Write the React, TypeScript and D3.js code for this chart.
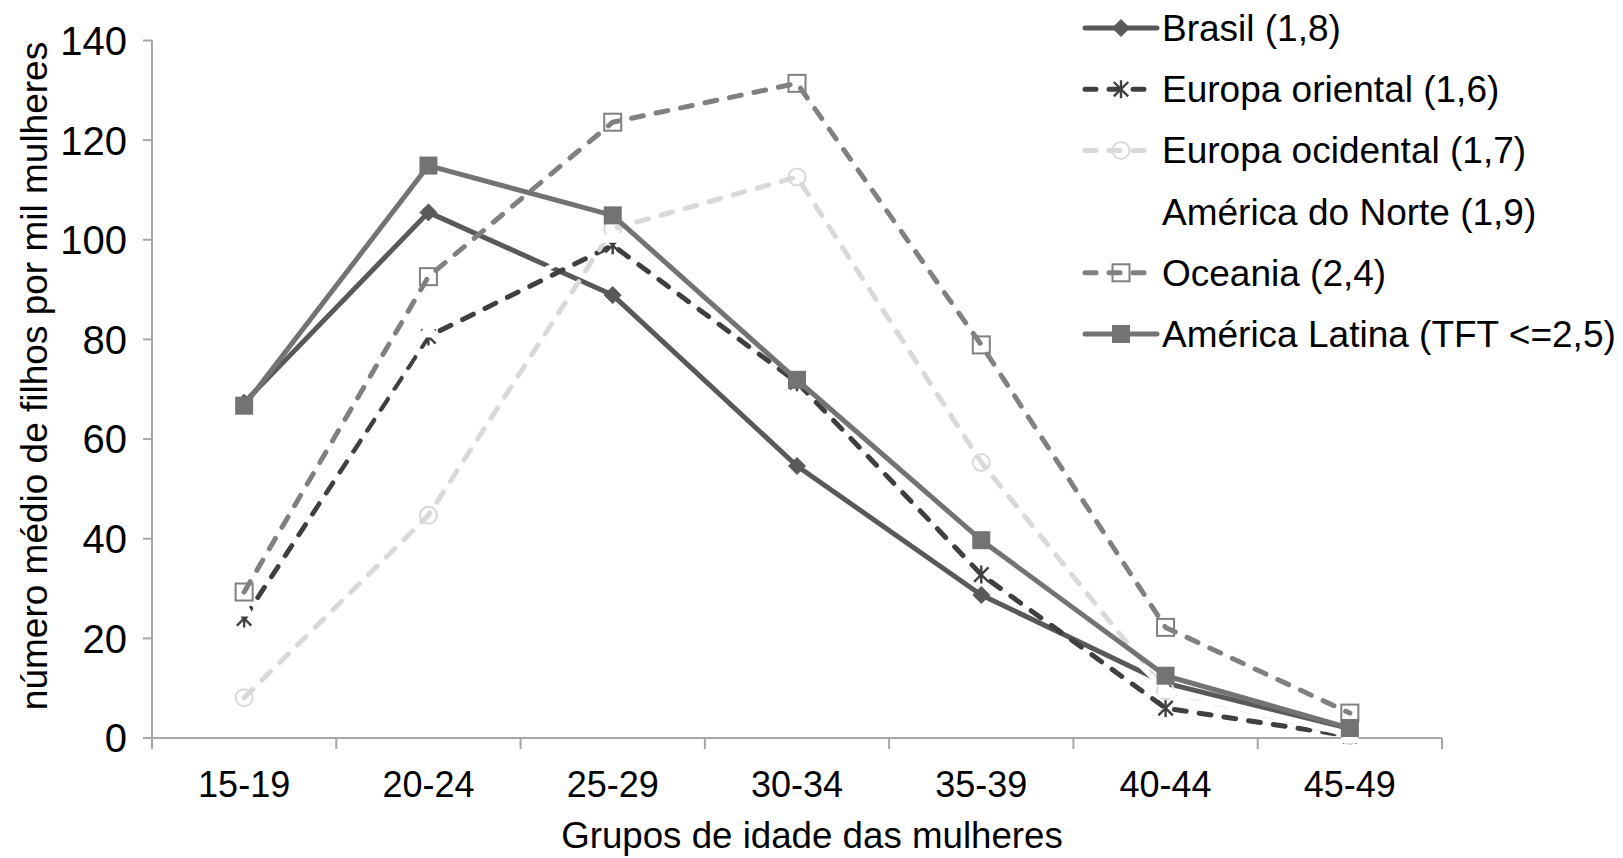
import React from "react";
import * as d3 from "d3";

// Age groups (x axis)
const categories = ["15-19", "20-24", "25-29", "30-34", "35-39", "40-44", "45-49"];

// Age-specific fertility rates, births per thousand women
const brasil = [67.3, 105.5, 88.9, 54.6, 28.7, 11.0, 1.9];
const europaOriental = [24.0, 80.6, 98.9, 71.4, 32.8, 6.0, 0.4];
const europaOcidental = [8.1, 44.7, 102.2, 112.6, 55.3, 9.5, 0.5];
const americaNorte = [26.0, 82.0, 101.0, 96.0, 46.0, 9.6, 0.6];
const oceania = [29.3, 92.6, 123.6, 131.4, 78.9, 22.2, 5.0];
const americaLatina = [66.7, 114.9, 104.9, 71.9, 39.7, 12.5, 2.0];

const yTicks = [0, 20, 40, 60, 80, 100, 120, 140];

type Marker = "diamond" | "star" | "circle" | "triangle" | "openSquare" | "square";

interface Series {
  name: string;
  values: number[];
  color: string;
  dashed: boolean;
  marker: Marker;
}

const series: Series[] = [
  { name: "Brasil (1,8)", values: brasil, color: "#595959", dashed: false, marker: "diamond" },
  { name: "Europa oriental (1,6)", values: europaOriental, color: "#3f3f3f", dashed: true, marker: "star" },
  { name: "Europa ocidental (1,7)", values: europaOcidental, color: "#d9d9d9", dashed: true, marker: "circle" },
  { name: "América do Norte (1,9)", values: americaNorte, color: "#ffffff", dashed: false, marker: "triangle" },
  { name: "Oceania (2,4)", values: oceania, color: "#808080", dashed: true, marker: "openSquare" },
  { name: "América Latina (TFT <=2,5)", values: americaLatina, color: "#737373", dashed: false, marker: "square" },
];

const W = 1623;
const H = 858;
const FONT = "'Liberation Sans', Arial, sans-serif";
const AXIS = "#a6a6a6";

const x = d3.scaleBand<string>().domain(categories).range([152, 1442]);
const y = d3.scaleLinear().domain([0, 140]).range([738, 40.5]);
const cx = (c: string) => (x(c) as number) + x.bandwidth() / 2;

function MarkerShape({ kind, px, py, color }: { kind: Marker; px: number; py: number; color: string }) {
  switch (kind) {
    case "diamond": {
      const r = 8.5;
      return <path d={`M${px},${py - r}L${px + r},${py}L${px},${py + r}L${px - r},${py}Z`} fill={color} stroke={color} strokeWidth={1} />;
    }
    case "star": {
      const r = 9;
      const d = r * 0.8;
      return (
        <path
          d={`M${px},${py - r}L${px},${py + r}M${px - d},${py - d}L${px + d},${py + d}M${px - d},${py + d}L${px + d},${py - d}`}
          stroke={color}
          strokeWidth={2.4}
          fill="none"
        />
      );
    }
    case "circle":
      return <circle cx={px} cy={py} r={8.5} fill="none" stroke={color} strokeWidth={2} />;
    case "triangle": {
      const r = 9;
      return <path d={`M${px},${py - r}L${px + r},${py + r * 0.8}L${px - r},${py + r * 0.8}Z`} fill={color} stroke={color} strokeWidth={1.5} />;
    }
    case "openSquare":
      return <rect x={px - 8.5} y={py - 8.5} width={17} height={17} fill="none" stroke={color} strokeWidth={2} />;
    case "square":
      return <rect x={px - 9} y={py - 9} width={18} height={18} fill={color} />;
  }
}

export default function App() {
  const line = d3
    .line<number>()
    .x((_, i) => cx(categories[i]))
    .y((v) => y(v));

  const legendX0 = 1085;
  const legendX1 = 1157;
  const legendY = (i: number) => 28 + i * 61.2;

  return (
    <svg
      width={W}
      height={H}
      viewBox={`0 0 ${W} ${H}`}
      style={{ position: "absolute", left: 0, top: 0, background: "#fff" }}
      fontFamily={FONT}
    >
      <rect width={W} height={H} fill="#fff" />

      {/* y axis */}
      <line x1={152} x2={152} y1={y(140)} y2={y(0)} stroke={AXIS} strokeWidth={2} />
      {yTicks.map((t) => (
        <g key={t}>
          <line x1={143} x2={152} y1={y(t)} y2={y(t)} stroke={AXIS} strokeWidth={2} />
          <text x={127} y={y(t)} dy="0.36em" textAnchor="end" fontSize={40} fill="#000">
            {t}
          </text>
        </g>
      ))}

      {/* x axis */}
      <line x1={152} x2={1442} y1={y(0)} y2={y(0)} stroke={AXIS} strokeWidth={2} />
      {[...categories.map((c) => x(c) as number), 1442].map((bx, i) => (
        <line key={i} x1={bx} x2={bx} y1={y(0)} y2={y(0) + 11} stroke={AXIS} strokeWidth={2} />
      ))}
      {categories.map((c) => (
        <text key={c} x={cx(c)} y={797} textAnchor="middle" fontSize={36} fill="#000">
          {c}
        </text>
      ))}

      <text x={812} y={848} textAnchor="middle" fontSize={36.7} fill="#000">
        Grupos de idade das mulheres
      </text>
      <text
        transform={`translate(47,376) rotate(-90)`}
        textAnchor="middle"
        fontSize={37}
        fill="#000"
      >
        número médio de filhos por mil mulheres
      </text>

      {/* series */}
      {series.map((s) => (
        <g key={s.name}>
          <path
            d={line(s.values) as string}
            fill="none"
            stroke={s.color}
            strokeWidth={5}
            strokeLinecap="round"
            strokeLinejoin="round"
            strokeDasharray={s.dashed ? "12 13" : undefined}
          />
          {s.values.map((v, i) => (
            <MarkerShape key={i} kind={s.marker} px={cx(categories[i])} py={y(v)} color={s.color} />
          ))}
        </g>
      ))}

      {/* legend */}
      {series.map((s, i) => {
        const ly = legendY(i);
        const mx = (legendX0 + legendX1) / 2;
        return (
          <g key={s.name}>
            <line
              x1={legendX0}
              x2={legendX1}
              y1={ly}
              y2={ly}
              stroke={s.color}
              strokeWidth={5}
              strokeLinecap="round"
              strokeDasharray={s.dashed ? "11 13" : undefined}
            />
            <MarkerShape kind={s.marker} px={mx} py={ly} color={s.color} />
            <text x={1162} y={ly} dy="0.35em" fontSize={37} fill="#000">
              {s.name}
            </text>
          </g>
        );
      })}
    </svg>
  );
}
